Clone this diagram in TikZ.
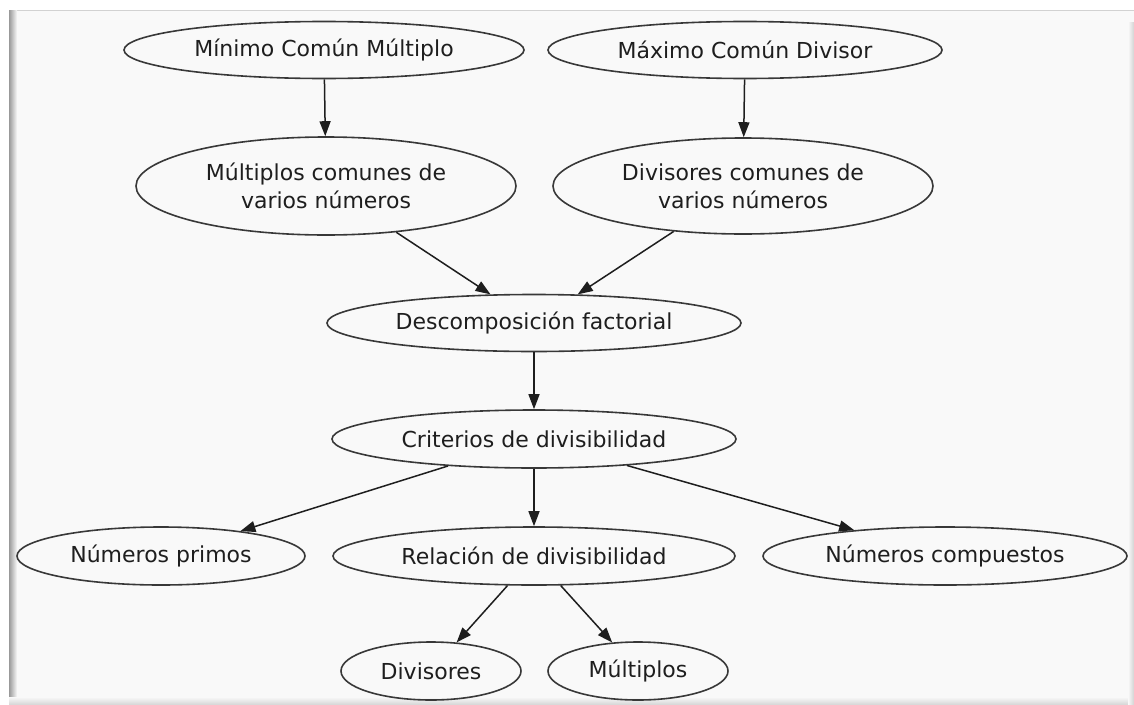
\documentclass[tikz,border=0pt]{standalone}
\usepackage{fontspec}
\setmainfont{DejaVu Sans}
\usepackage{tikz}
\usetikzlibrary{shapes.geometric, arrows.meta}

\definecolor{fondo}{HTML}{F9F9F9}
\definecolor{trazo}{HTML}{383838}
\definecolor{letra}{HTML}{1E1E1E}

\begin{document}
\begin{tikzpicture}[x=1pt,y=-1pt,
  nodo/.style={draw=trazo,line width=1.6pt,ellipse,inner sep=0pt,text=letra,align=center,font=\fontsize{22}{28}\selectfont},
  flecha/.style={draw=letra,line width=1.5pt,-{Triangle[length=15pt,width=11pt]}}]
  \useasboundingbox (0,0) rectangle (1134,704);
  \fill[white] (0,0) rectangle (1134,704); %fondo
  \fill[fondo] (9,10) rectangle (1134,704); %panel
  \draw[gray!35,line width=1pt] (9,10.5)--(1134,10.5); %borde arriba
  \shade[left color=gray!80,right color=fondo] (9,10) rectangle (17,704); %borde izq.
  \shade[top color=fondo,bottom color=gray!30] (9,697) rectangle (1134,704); %borde abajo
  \shade[left color=fondo,right color=gray!35] (1128,22) rectangle (1134,704); %borde der.

  \node[nodo,minimum width=400pt,minimum height=57pt] (mcm) at (324,50) {Mínimo Común Múltiplo};
  \node[nodo,minimum width=394pt,minimum height=57pt] (mcd) at (745,50) {Máximo Común Divisor};
  \node[nodo,minimum width=380pt,minimum height=98pt] (mulcom) at (326,186) {Múltiplos comunes de\\varios números};
  \node[nodo,minimum width=380pt,minimum height=96pt] (divcom) at (743,186) {Divisores comunes de\\varios números};
  \node[nodo,minimum width=414pt,minimum height=57pt] (descomp) at (534,323) {Descomposición factorial};
  \node[nodo,minimum width=404pt,minimum height=58pt] (criterios) at (534,439) {Criterios de divisibilidad};
  \node[nodo,minimum width=288pt,minimum height=58pt] (primos) at (161,556) {Números primos};
  \node[nodo,minimum width=402pt,minimum height=58pt] (relacion) at (534,556) {Relación de divisibilidad};
  \node[nodo,minimum width=364pt,minimum height=58pt] (compuestos) at (945,556) {Números compuestos};
  \node[nodo,minimum width=180pt,minimum height=58pt] (divisores) at (431,671) {Divisores};
  \node[nodo,minimum width=180pt,minimum height=58pt] (multiplos) at (638,671) {Múltiplos};

  \draw[flecha] (mcm)--(mulcom);
  \draw[flecha] (mcd)--(divcom);
  \draw[flecha] (mulcom)--(descomp);
  \draw[flecha] (divcom)--(descomp);
  \draw[flecha] (descomp)--(criterios);
  \draw[flecha] (criterios)--(primos);
  \draw[flecha] (criterios)--(relacion);
  \draw[flecha] (criterios)--(compuestos);
  \draw[flecha] (relacion)--(divisores);
  \draw[flecha] (relacion)--(multiplos);
\end{tikzpicture}
\end{document}
